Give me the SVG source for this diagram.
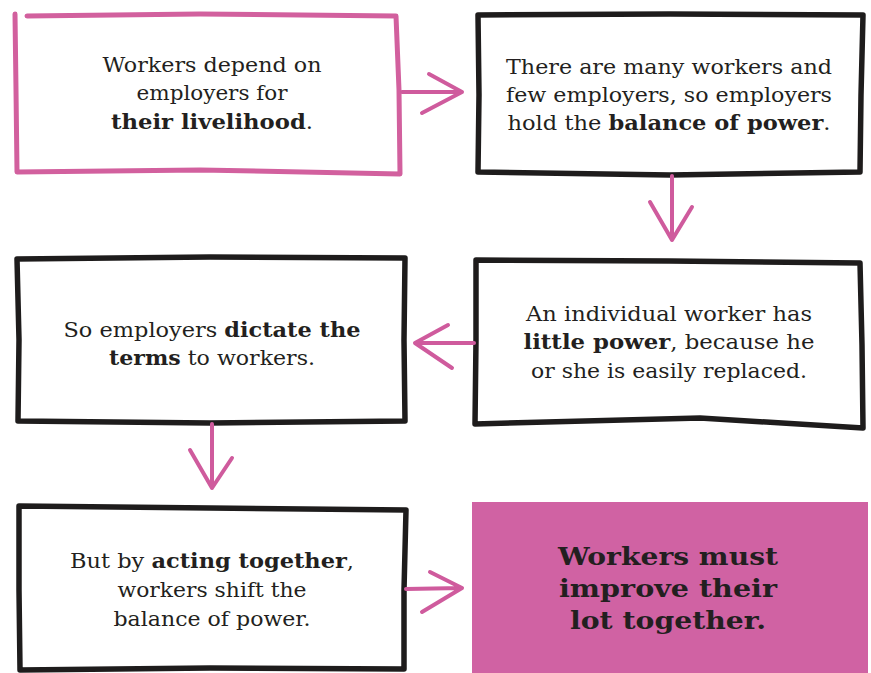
<svg xmlns="http://www.w3.org/2000/svg" width="871" height="673" viewBox="0 0 871 673">
<style>
.t{font-family:"DejaVu Serif","Liberation Serif",serif;font-size:20px;fill:#231f20;text-anchor:middle}
.b{font-weight:bold}
.big{font-family:"DejaVu Serif","Liberation Serif",serif;font-size:25px;font-weight:bold;fill:#231f20;text-anchor:middle}
.bx{fill:#ffffff;stroke:#1e1c1c;stroke-width:5.5;stroke-linejoin:round;stroke-linecap:round}
.pk{fill:#ffffff;stroke:#d2609e;stroke-width:5;stroke-linejoin:round;stroke-linecap:round}
.ar{fill:none;stroke:#cf5b9d;stroke-width:4;stroke-linecap:round;stroke-linejoin:round}
</style>
<rect width="871" height="673" fill="#ffffff"/>
<g id="node1">
<path class="pk" d="M27,16 L200,14 L396,16 L399,90 L400,174 L200,170 L17,172 L16,90 L15,14"/>
<text class="t" x="212" y="72" textLength="219" lengthAdjust="spacingAndGlyphs">Workers depend on</text>
<text class="t" x="212" y="100" textLength="151" lengthAdjust="spacingAndGlyphs">employers for</text>
<text class="t" x="212" y="129" textLength="202" lengthAdjust="spacingAndGlyphs"><tspan class="b">their livelihood</tspan>.</text>
</g>
<g id="node2">
<path class="bx" d="M478,15 L670,14 L863,15 L861,95 L860,172 L670,175 L478,172 L479,95 Z"/>
<text class="t" x="669" y="74" textLength="326" lengthAdjust="spacingAndGlyphs">There are many workers and</text>
<text class="t" x="669" y="102" textLength="326" lengthAdjust="spacingAndGlyphs">few employers, so employers</text>
<text class="t" x="669" y="130" textLength="323" lengthAdjust="spacingAndGlyphs">hold the <tspan class="b">balance of power</tspan>.</text>
</g>
<g id="node3">
<path class="bx" d="M17,259 L210,257 L405,258 L404,340 L405,421 L210,423 L18,421 L19,340 Z"/>
<text class="t" x="212" y="337" textLength="297" lengthAdjust="spacingAndGlyphs">So employers <tspan class="b">dictate the</tspan></text>
<text class="t" x="212" y="365" textLength="206" lengthAdjust="spacingAndGlyphs"><tspan class="b">terms</tspan> to workers.</text>
</g>
<g id="node4">
<path class="bx" d="M476,260 L670,261 L860,263 L862,345 L863,428 L700,418 L475,424 L476,340 Z"/>
<text class="t" x="669" y="321" textLength="286" lengthAdjust="spacingAndGlyphs">An individual worker has</text>
<text class="t" x="669" y="349" textLength="291" lengthAdjust="spacingAndGlyphs"><tspan class="b">little power</tspan>, because he</text>
<text class="t" x="669" y="378" textLength="276" lengthAdjust="spacingAndGlyphs">or she is easily replaced.</text>
</g>
<g id="node5">
<path class="bx" d="M19,506 L210,508 L406,510 L404,590 L404,669 L210,668 L20,670 L19,590 Z"/>
<text class="t" x="212" y="568" textLength="284" lengthAdjust="spacingAndGlyphs">But by <tspan class="b">acting together</tspan>,</text>
<text class="t" x="212" y="597" textLength="189" lengthAdjust="spacingAndGlyphs">workers shift the</text>
<text class="t" x="212" y="626" textLength="197" lengthAdjust="spacingAndGlyphs">balance of power.</text>
</g>
<g id="node6">
<rect x="472" y="502" width="396" height="171" fill="#d062a3"/>
<text class="big" x="668" y="565" textLength="220" lengthAdjust="spacingAndGlyphs">Workers must</text>
<text class="big" x="668" y="597" textLength="218" lengthAdjust="spacingAndGlyphs">improve their</text>
<text class="big" x="668" y="629" textLength="196" lengthAdjust="spacingAndGlyphs">lot together.</text>
</g>
<g id="connectors">
<path class="ar" d="M402,92 L462,92 M429,74 L462,92 L422,113"/>
<path class="ar" d="M672,176 L672,240 M650,202 L672,240 L692,207"/>
<path class="ar" d="M474,343 L415,343 M448,325 L415,343 L452,368"/>
<path class="ar" d="M212,424 L212,488 M190,450 L212,488 L232,458"/>
<path class="ar" d="M406,589 L462,588 M430,572 L462,588 L422,612"/>
</g>
</svg>
